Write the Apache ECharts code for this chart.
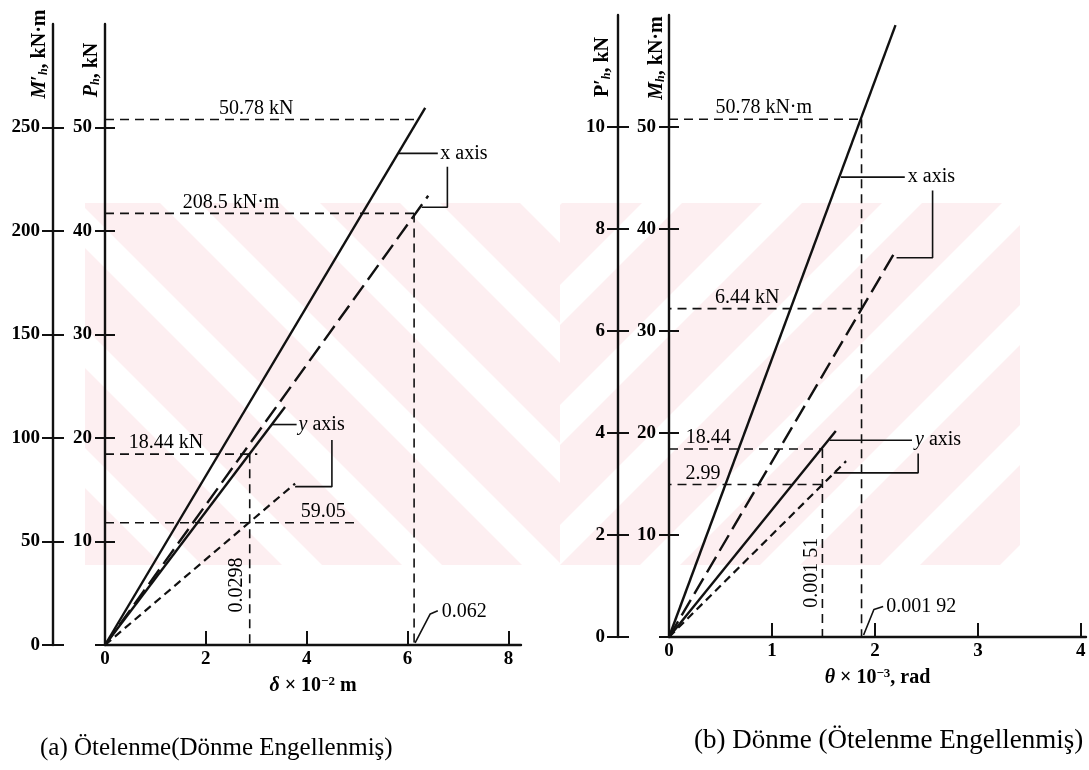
<!DOCTYPE html>
<html><head><meta charset="utf-8">
<script src="https://cdn.jsdelivr.net/npm/echarts@6/dist/echarts.min.js"></script>
<style>html,body{margin:0;padding:0;background:#fff;font-family:"Liberation Serif",serif}#c{width:1089px;height:770px}</style>
</head><body><div id="c"></div>
<script>
// ---------- tick labels ----------
const aXTicks = [0, 2, 4, 6, 8];
const aPTicks = [10, 20, 30, 40, 50];
const aMTicks = [0, 50, 100, 150, 200, 250];
const bXTicks = [0, 1, 2, 3, 4];
const bMTicks = [10, 20, 30, 40, 50];
const bPTicks = [0, 2, 4, 6, 8, 10];

// ---------- (a) translation: delta (x10^-2 m) ----------
const aXaxisP = [[0, 0], [6.35, 51.9]];   // P_h, x axis (solid)
const aXaxisM = [[0, 0], [6.41, 217]];    // M'_h, x axis (long dash)
const aYaxisP = [[0, 0], [3.57, 23.0]];   // P_h, y axis (solid)
const aYaxisM = [[0, 0], [3.77, 78]];     // M'_h, y axis (short dash)

// reference values (a)
const aRefP = [[[0, 50.78], [6.13, 50.78]], [[0, 18.44], [3.02, 18.44]], [[2.87, 18.44], [2.87, 0]]];
const aRefM = [[[0, 208.5], [6.13, 208.5]], [[0, 59.05], [5.0, 59.05]], [[6.13, 208.5], [6.13, 0]]];
const aLeaders = [
  [[5.82, 47.5], [6.6, 47.5]],
  [[6.79, 46.2], [6.79, 42.3], [6.28, 42.3]],
  [[3.31, 21.3], [3.8, 21.3]],
  [[4.5, 19.8], [4.5, 15.3], [3.77, 15.3]],
  [[6.15, 0.2], [6.45, 3.0], [6.6, 3.3]]
];
const aTextsP = [
  {name: '50.78 kN', value: [3.0, 50.78], pos: 'top'},
  {name: '18.44 kN', value: [1.21, 18.44], pos: 'top'},
  {name: 'x axis', value: [6.63, 47.5], pos: 'right'},
  {name: '{i|y} axis', value: [3.82, 21.3], pos: 'right'},
  {name: '0.062', value: [6.66, 3.2], pos: 'right'},
  {name: '0.0298', value: [2.62, 5.8], pos: 'rot'}
];
const aTextsM = [
  {name: '208.5 kN·m', value: [2.5, 208.5], pos: 'top'},
  {name: '59.05', value: [4.33, 59.05], pos: 'top'}
];

// ---------- (b) rotation: theta (x10^-3 rad) ----------
const bXaxisM = [[0, 0], [2.2, 60]];      // M_h, x axis (solid)
const bXaxisP = [[0, 0], [2.18, 7.5]];    // P'_h, x axis (long dash)
const bYaxisM = [[0, 0], [1.62, 20.2]];   // M_h, y axis (solid)
const bYaxisP = [[0, 0], [1.72, 3.45]];   // P'_h, y axis (short dash)

const bRefM = [[[0, 50.78], [1.87, 50.78]], [[0, 18.44], [1.49, 18.44]], [[1.87, 50.78], [1.87, 0]], [[1.49, 18.44], [1.49, 0]]];
const bRefP = [[[-0.5, 6.44], [1.87, 6.44]], [[-0.5, 2.99], [1.49, 2.99]]];
const bLeaders = [
  [[1.67, 45.1], [2.29, 45.1]],
  [[2.56, 43.8], [2.56, 37.2], [2.21, 37.2]],
  [[1.56, 19.3], [2.36, 19.3]],
  [[2.42, 18.0], [2.42, 16.1], [1.6, 16.1]],
  [[1.89, 0.2], [1.99, 2.7], [2.08, 3.0]]
];
const bTextsM = [
  {name: '50.78 kN·m', value: [0.92, 50.78], pos: 'top'},
  {name: '18.44', value: [0.38, 18.44], pos: 'top'},
  {name: 'x axis', value: [2.31, 45.1], pos: 'right'},
  {name: '{i|y} axis', value: [2.38, 19.3], pos: 'right'},
  {name: '0.001 92', value: [2.1, 3.0], pos: 'right'},
  {name: '0.001 51', value: [1.39, 6.3], pos: 'rot'}
];
const bTextsP = [
  {name: '6.44 kN', value: [0.76, 6.44], pos: 'top'},
  {name: '2.99', value: [0.33, 2.99], pos: 'top'}
];

// ---------- styling ----------
const FONT = '"Liberation Serif", "DejaVu Serif", serif';
const INK = '#000000';
const SOLID = 'solid', LONG = [18, 7], SHORT = [8, 5], REF = [9, 6];

function line(g, yi, data, type, width) {
  return {type: 'line', xAxisIndex: g, yAxisIndex: yi, data: data, symbol: 'none', showSymbol: false,
    silent: true, clip: false, animation: false, z: 3, lineStyle: {color: '#111', width: width, type: type}};
}
function texts(g, yi, items) {
  return {type: 'scatter', xAxisIndex: g, yAxisIndex: yi, symbolSize: 0, silent: true, animation: false, z: 4,
    itemStyle: {color: 'transparent'},
    data: items.map(function (t) {
      const lab = {show: true, formatter: t.name, color: INK, opacity: 1, fontFamily: FONT, fontSize: 20,
        rich: {i: {fontStyle: 'italic', fontFamily: FONT, fontSize: 20, color: INK}}};
      if (t.pos === 'top') { lab.position = 'top'; lab.distance = 1; }
      else if (t.pos === 'right') { lab.position = 'right'; lab.distance = 1; lab.align = 'left'; lab.verticalAlign = 'middle'; }
      else { lab.position = 'inside'; lab.rotate = 90; lab.align = 'center'; lab.verticalAlign = 'middle'; }
      return {value: t.value, label: lab};
    })};
}
function yAx(g, min, max, offset, ticks, labels, inside, len) {
  return {type: 'value', gridIndex: g, position: 'left', offset: offset, min: min, max: max,
    axisLine: {show: !inside, onZero: false, lineStyle: {color: '#111', width: 2.4}},
    axisTick: {show: true, inside: inside, length: len, customValues: ticks, lineStyle: {color: '#111', width: 2}},
    axisLabel: {show: !inside, customValues: labels, margin: 13, color: INK, fontFamily: FONT, fontSize: 19, fontWeight: 'bold'},
    splitLine: {show: false}};
}
function xAx(g, max, ticks, name) {
  return {type: 'value', gridIndex: g, min: 0, max: max,
    axisLine: {onZero: false, lineStyle: {color: '#111', width: 2.4}},
    axisTick: {inside: true, length: 14, customValues: ticks, lineStyle: {color: '#111', width: 2}},
    axisLabel: {customValues: ticks, margin: 5, color: INK, fontFamily: FONT, fontSize: 19, fontWeight: 'bold'},
    splitLine: {show: false},
    name: name, nameLocation: 'middle', nameGap: 30,
    nameTextStyle: {color: INK, fontFamily: FONT, fontSize: 20, fontWeight: 'bold',
      rich: {i: {fontStyle: 'italic', fontWeight: 'bold', fontFamily: FONT, fontSize: 20, color: INK},
             sup: {fontFamily: FONT, fontSize: 13, fontWeight: 'bold', color: INK, verticalAlign: 'top', padding: [0, 0, 8, 0]}}}};
}
function vname(x, y, txt) {
  return {type: 'text', x: x, y: y, rotation: Math.PI / 2, silent: true,
    style: {text: txt, fill: INK, fontFamily: FONT, fontSize: 20, fontWeight: 'bold', align: 'center', verticalAlign: 'middle',
      rich: {i: {fontStyle: 'italic', fontWeight: 'bold', fontSize: 20, fontFamily: FONT, fill: INK},
             sub: {fontStyle: 'italic', fontWeight: 'bold', fontSize: 12, fontFamily: FONT, fill: INK, padding: [8, 0, 0, 0]}}}};
}

// pale watermark bands (background decoration)
function clipPoly(poly, x0, y0, x1, y1) {
  const edges = [
    function (p) { return p[0] >= x0; }, function (p) { return p[0] <= x1; },
    function (p) { return p[1] >= y0; }, function (p) { return p[1] <= y1; }];
  const inter = [
    function (a, b) { const t = (x0 - a[0]) / (b[0] - a[0]); return [x0, a[1] + t * (b[1] - a[1])]; },
    function (a, b) { const t = (x1 - a[0]) / (b[0] - a[0]); return [x1, a[1] + t * (b[1] - a[1])]; },
    function (a, b) { const t = (y0 - a[1]) / (b[1] - a[1]); return [a[0] + t * (b[0] - a[0]), y0]; },
    function (a, b) { const t = (y1 - a[1]) / (b[1] - a[1]); return [a[0] + t * (b[0] - a[0]), y1]; }];
  let out = poly;
  for (let e = 0; e < 4; e++) {
    const inp = out; out = [];
    for (let i = 0; i < inp.length; i++) {
      const cur = inp[i], prev = inp[(i + inp.length - 1) % inp.length];
      const ci = edges[e](cur), pi = edges[e](prev);
      if (ci) { if (!pi) out.push(inter[e](prev, cur)); out.push(cur); }
      else if (pi) out.push(inter[e](prev, cur));
    }
    if (!out.length) break;
  }
  return out;
}
const wm = [];
(function () {
  const top = 203, bot = 565, h = bot - top;
  for (let s = -400; s < 700; s += 120) {
    const p = clipPoly([[s, top], [s + 80, top], [s + 80 + h, bot], [s + h, bot]], 85, top, 560, bot);
    if (p.length > 2) wm.push({type: 'polygon', silent: true, z: -10, shape: {points: p}, style: {fill: '#fdeff1'}});
  }
  for (let s = 200; s < 1400; s += 120) {
    const p = clipPoly([[s, bot], [s + 80, bot], [s + 80 + h, top], [s + h, top]], 560, top, 1020, bot);
    if (p.length > 2) wm.push({type: 'polygon', silent: true, z: -10, shape: {points: p}, style: {fill: '#fdeff1'}});
  }
})();

const series = [];
series.push(line(0, 0, aXaxisP, SOLID, 2.4));
series.push(line(0, 1, aXaxisM, LONG, 2.4));
series.push(line(0, 0, aYaxisP, SOLID, 2.4));
series.push(line(0, 1, aYaxisM, SHORT, 2.2));
aRefP.forEach(function (d) { series.push(line(0, 0, d, REF, 1.6)); });
aRefM.forEach(function (d) { series.push(line(0, 1, d, REF, 1.6)); });
aLeaders.forEach(function (d) { series.push(line(0, 0, d, SOLID, 1.6)); });
series.push(texts(0, 0, aTextsP));
series.push(texts(0, 1, aTextsM));

series.push(line(1, 4, bXaxisM, SOLID, 2.4));
series.push(line(1, 5, bXaxisP, LONG, 2.4));
series.push(line(1, 4, bYaxisM, SOLID, 2.4));
series.push(line(1, 5, bYaxisP, SHORT, 2.2));
bRefM.forEach(function (d) { series.push(line(1, 4, d, REF, 1.6)); });
bRefP.forEach(function (d) { series.push(line(1, 5, d, REF, 1.6)); });
bLeaders.forEach(function (d) { series.push(line(1, 4, d, SOLID, 1.6)); });
series.push(texts(1, 4, bTextsM));
series.push(texts(1, 5, bTextsP));

const option = {
  backgroundColor: '#ffffff',
  animation: false,
  textStyle: {fontFamily: FONT},
  grid: [
    {left: 105, top: 24, width: 416, height: 621},
    {left: 669, top: 15, width: 417, height: 622}
  ],
  xAxis: [
    xAx(0, 8.25, aXTicks, '{i|δ} × 10{sup|−2} m'),
    xAx(1, 4.05, bXTicks, '{i|θ} × 10{sup|−3}, rad')
  ],
  yAxis: [
    yAx(0, 0, 60, 0, [0].concat(aPTicks), aPTicks, false, 10),
    yAx(0, 0, 300, 52, aMTicks, aMTicks, false, 11),
    yAx(0, 0, 60, 0, aPTicks, aPTicks, true, 10),
    yAx(0, 0, 300, 52, aMTicks, aMTicks, true, 11),
    yAx(1, 0, 61, 0, [0].concat(bMTicks), bMTicks, false, 10),
    yAx(1, 0, 12.2, 51, bPTicks, bPTicks, false, 11),
    yAx(1, 0, 61, 0, bMTicks, bMTicks, true, 10),
    yAx(1, 0, 12.2, 51, bPTicks, bPTicks, true, 11)
  ],
  graphic: wm.concat([
    vname(40, 54, '{i|M}′{sub|h}, kN·m'),
    vname(92, 70, '{i|P}{sub|h}, kN'),
    vname(603, 67, 'P′{sub|h}, kN'),
    vname(657, 58, '{i|M}{sub|h}, kN·m'),
    {type: 'text', x: 40, y: 748, silent: true,
      style: {text: '(a) Ötelenme(Dönme Engellenmiş)', fill: INK, fontFamily: FONT, fontSize: 25, verticalAlign: 'middle'}},
    {type: 'text', x: 694, y: 741, silent: true,
      style: {text: '(b) Dönme (Ötelenme Engellenmiş)', fill: INK, fontFamily: FONT, fontSize: 27, verticalAlign: 'middle'}}
  ]),
  series: series
};

const chart = echarts.init(document.getElementById('c'), null, {renderer: 'canvas'});
chart.setOption(option);
if (document.fonts && document.fonts.load) {
  Promise.all([
    document.fonts.load('20px "Liberation Serif"'),
    document.fonts.load('bold 20px "Liberation Serif"'),
    document.fonts.load('italic bold 20px "Liberation Serif"'),
    document.fonts.load('italic 20px "Liberation Serif"')
  ]).then(function () { chart.setOption(option, true); }).catch(function () {});
}
</script></body></html>
